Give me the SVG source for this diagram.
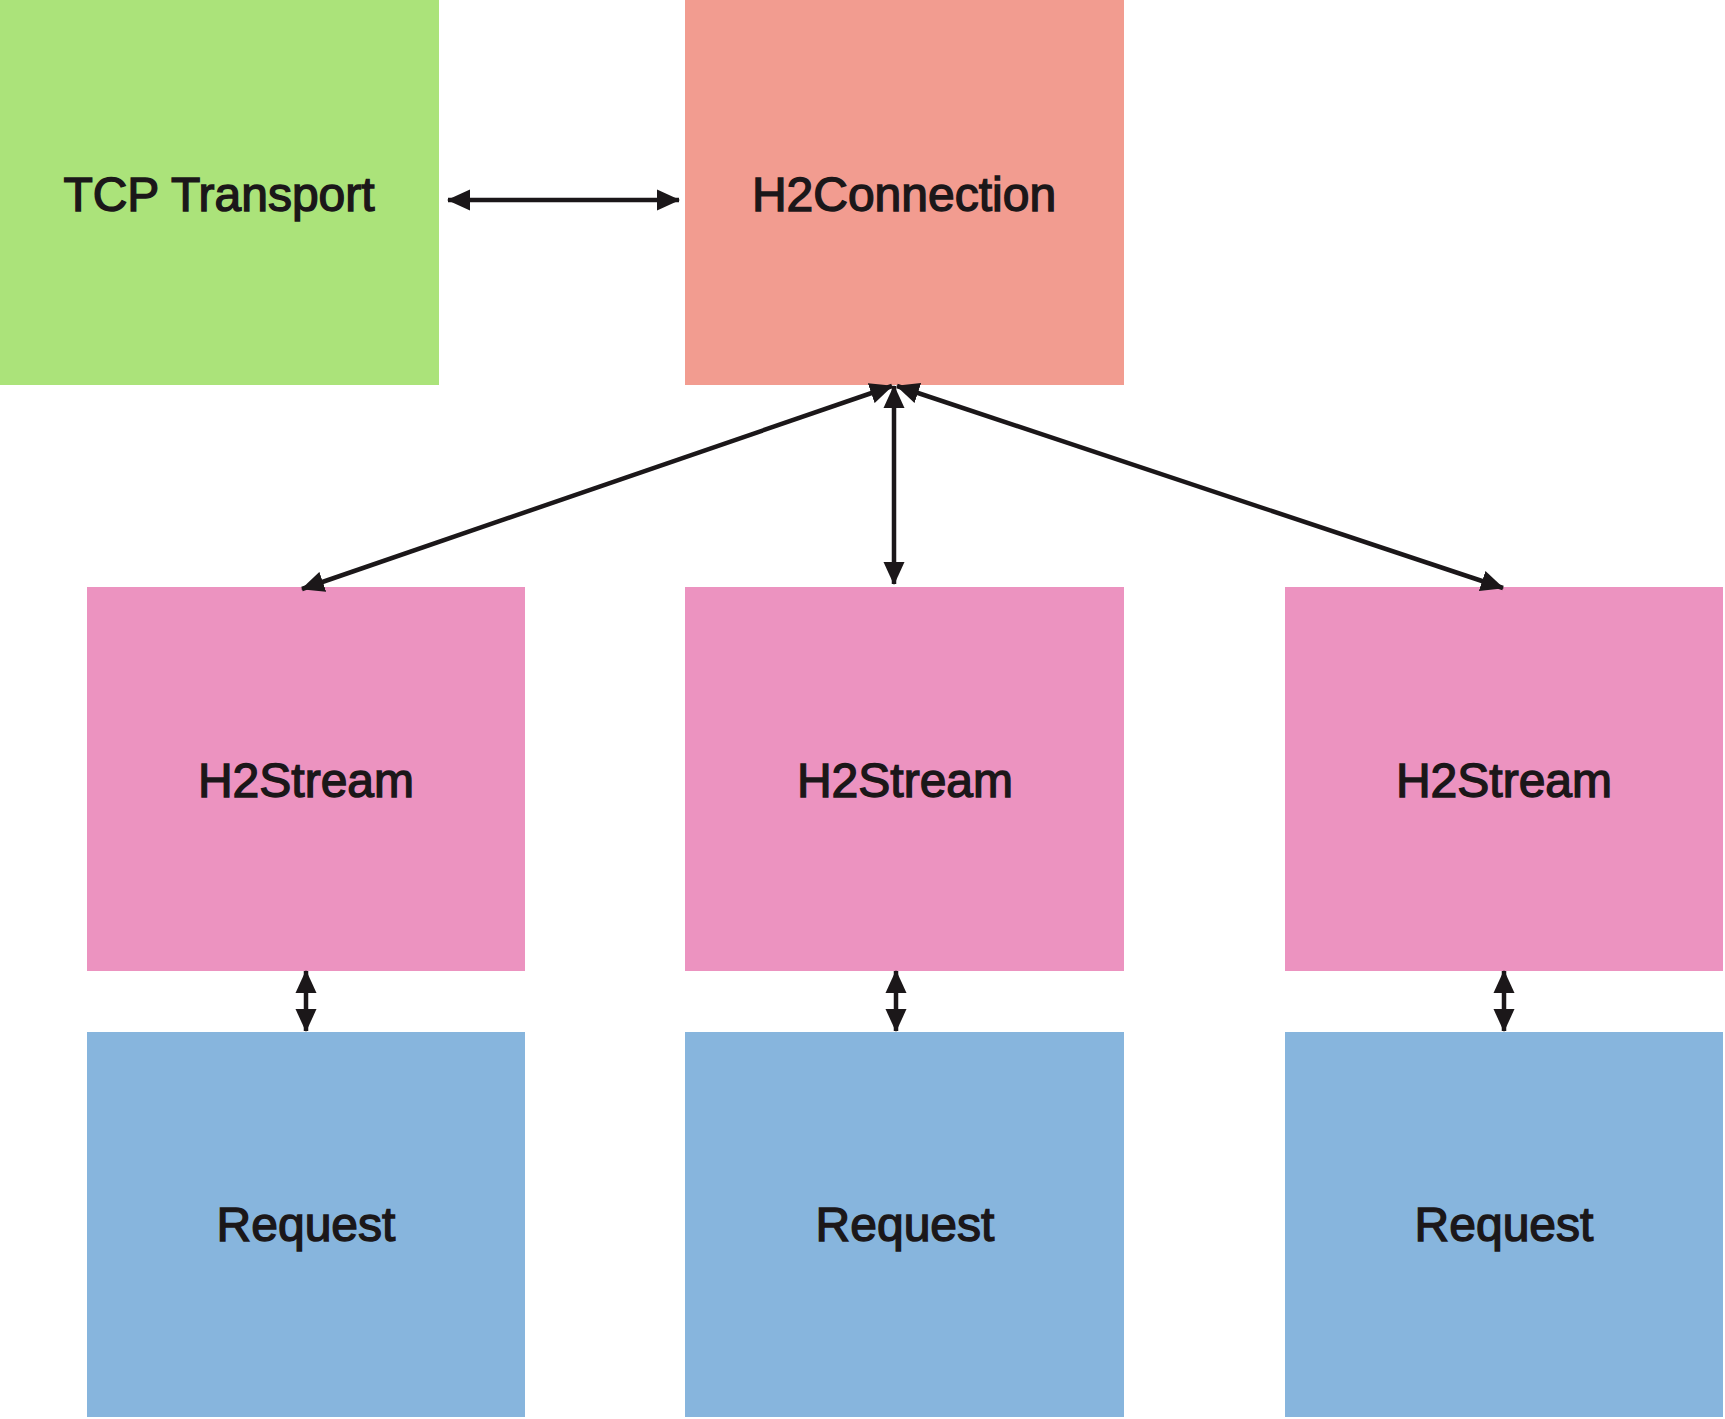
<svg xmlns="http://www.w3.org/2000/svg" width="1725" height="1419" viewBox="0 0 1725 1419">
<style>
.lbl{font-family:"Liberation Sans",Arial,sans-serif;font-size:48px;fill:#1b1719;stroke:#1b1719;stroke-width:1.4px;text-anchor:middle}
.tcp{fill:#abe37a}.conn{fill:#f29c90}.stream{fill:#ec93c0}.req{fill:#87b5dd}
.edge{stroke:#1b1719;stroke-width:4.5;fill:none;marker-start:url(#ah);marker-end:url(#ah)}
</style>
<defs>
<marker id="ah" markerUnits="userSpaceOnUse" markerWidth="23" markerHeight="22" refX="22" refY="10.5" orient="auto-start-reverse" viewBox="0 0 23 21">
<path d="M0,0 L23,10.5 L0,21 z" fill="#1b1719"/>
</marker>
</defs>
<rect width="1725" height="1419" fill="#ffffff"/>
<g id="tcp"><rect class="tcp" x="0" y="0" width="439" height="385"/><text class="lbl" x="219" y="211">TCP Transport</text></g>
<g id="h2connection"><rect class="conn" x="685" y="0" width="439" height="385"/><text class="lbl" x="904" y="211">H2Connection</text></g>
<g id="stream1"><rect class="stream" x="87" y="587" width="438" height="384"/><text class="lbl" x="306" y="797">H2Stream</text></g>
<g id="stream2"><rect class="stream" x="685" y="587" width="439" height="384"/><text class="lbl" x="905" y="797">H2Stream</text></g>
<g id="stream3"><rect class="stream" x="1285" y="587" width="438" height="384"/><text class="lbl" x="1504" y="797">H2Stream</text></g>
<g id="request1"><rect class="req" x="87" y="1032" width="438" height="385"/><text class="lbl" x="306" y="1241">Request</text></g>
<g id="request2"><rect class="req" x="685" y="1032" width="439" height="385"/><text class="lbl" x="905" y="1241">Request</text></g>
<g id="request3"><rect class="req" x="1285" y="1032" width="438" height="385"/><text class="lbl" x="1504" y="1241">Request</text></g>
<g id="connectors">
<line class="edge" x1="448" y1="200" x2="679" y2="200"/>
<line class="edge" x1="894" y1="386" x2="894" y2="584"/>
<line class="edge" x1="892" y1="386" x2="302" y2="589"/>
<line class="edge" x1="897" y1="386" x2="1503" y2="588"/>
<line class="edge" x1="306" y1="971" x2="306" y2="1031"/>
<line class="edge" x1="896" y1="971" x2="896" y2="1031"/>
<line class="edge" x1="1504" y1="971" x2="1504" y2="1031"/>
</g>
</svg>
